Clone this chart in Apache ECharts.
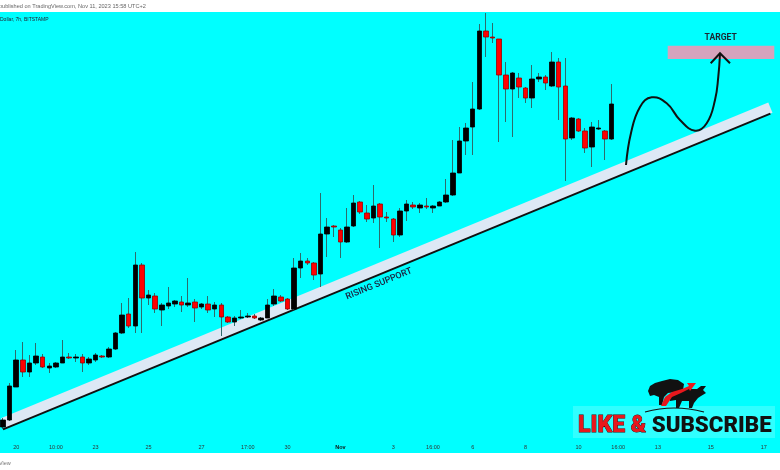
<!DOCTYPE html>
<html><head><meta charset="utf-8">
<script src="https://cdn.jsdelivr.net/npm/echarts@6/dist/echarts.min.js"></script>
<style>html,body{margin:0;padding:0;background:#fff}#c{width:780px;height:470px}</style>
</head><body><div id="c"></div>
<script>
// 7h candles (arbitrary price units)
const opens  = [28,35,68,95,83,92,98,87,88,92,98,97,98,92,95,99,98,106,122,141,129,190,157,159,145,149,151,153,150,153,148,151,146,150,138,133,137,138,139,135,137,151,158,156,146,187,194,192,181,221,229,225,213,229,253,242,237,251,238,236,220,244,250,247,249,247,249,253,260,282,314,328,346,424,418,416,380,366,377,367,357,376,378,369,393,369,317,336,324,308,326,324,316];
const closes = [35,69,95,83,92,99,88,89,92,98,97,98,92,96,100,98,106,122,140,129,190,157,160,146,150,152,154,150,152,147,151,145,150,138,133,137,138,139,137,137,150,159,154,146,187,194,192,180,221,228,228,213,228,252,243,236,249,238,237,220,244,251,248,250,248,249,253,260,282,314,327,346,424,418,417,380,366,382,368,357,376,378,372,393,368,316,337,324,307,328,327,316,351];
const lows   = [26,34,68,78,78,90,87,82,87,92,96,93,83,90,93,97,97,105,121,127,122,122,150,142,129,146,148,143,148,133,146,142,138,119,132,129,136,137,136,134,137,149,153,145,145,177,190,175,168,198,218,197,212,228,241,233,232,207,233,213,218,234,246,242,246,242,249,252,259,282,300,300,345,398,412,313,333,318,357,352,347,373,365,368,335,274,315,323,302,288,325,295,315];
const highs  = [37,72,105,113,100,112,101,92,93,115,102,101,101,98,102,100,108,123,152,157,203,192,165,162,152,168,155,159,177,156,152,159,153,152,139,139,145,142,141,138,156,166,160,157,197,202,197,193,262,237,230,227,247,260,254,250,270,252,243,237,247,255,253,252,257,250,254,276,315,328,332,373,431,442,432,416,393,383,382,368,390,382,380,403,397,397,338,337,327,333,335,325,371];
const slotCount = 118;
const tickIndex = [2,8,14,22,30,37,43,51,59,65,71,79,87,93,99,107,115];
const tickText  = ['20','10:00','23','25','27','17:00','30','Nov','3','16:00','6','8','10','16:00','13','15','17'];
const supportIdx = [0,116];
const supportVal = [25.6,341.3];

const categories = Array.from({length: slotCount}, (_, i) => 'c' + i);
const labelMap = {};
tickIndex.forEach((k, j) => labelMap[k] = tickText[j]);
const wickData = opens.map((o, i) => [o, closes[i], lows[i], highs[i]]);
const bodyData = opens.map((o, i) => [o, closes[i], Math.min(o, closes[i]), Math.max(o, closes[i])]);
const bandData = supportIdx.map((k, j) => [k, supportVal[j] + 6]);
const lineData = supportIdx.map((k, j) => [k, supportVal[j]]);

const chart = echarts.init(document.getElementById('c'), null, {renderer: 'canvas'});
chart.setOption({
  animation: false,
  backgroundColor: '#00ffff',
  grid: {left: -1, right: 1, top: 12, bottom: 30},
  xAxis: {
    type: 'category', data: categories, boundaryGap: false,
    axisLine: {show: false}, axisTick: {show: false}, splitLine: {show: false},
    axisLabel: {
      interval: 0, margin: 4, fontSize: 5.5, color: '#333', fontFamily: 'Liberation Sans',
      formatter: (v, i) => labelMap[i] === 'Nov' ? '{b|Nov}' : (labelMap[i] || ''),
      rich: {b: {fontWeight: 'bold', fontSize: 5.5, color: '#111', fontFamily: 'Liberation Sans'}}
    }
  },
  yAxis: {type: 'value', min: 15, max: 443, show: false, splitLine: {show: false}},
  series: [
    {type: 'line', data: bandData, symbol: 'none', silent: true, z: 1,
     lineStyle: {width: 11, color: '#dde8f5', cap: 'butt'}},
    {type: 'line', data: lineData, symbol: 'none', silent: true, z: 1,
     lineStyle: {width: 2, color: '#111'}},
    {type: 'candlestick', data: wickData, barWidth: 1, z: 3,
     itemStyle: {color: '#2e6b6b', color0: '#2e6b6b', borderColor: '#2e6b6b', borderColor0: '#2e6b6b', borderWidth: 1}},
    {type: 'candlestick', data: bodyData, barWidth: 5, z: 4,
     itemStyle: {color: '#000', color0: '#ff0000', borderColor: '#000', borderColor0: '#9a0000', borderWidth: 0.8}}
  ],
  graphic: [
    {type: 'rect', z: 100, shape: {x: 0, y: 0, width: 780, height: 12}, style: {fill: '#fff'}},
    {type: 'rect', z: 100, shape: {x: 0, y: 453, width: 780, height: 17}, style: {fill: '#fff'}},
    {type: 'text', z: 101, x: -1, y: 6, style: {text: 'published on TradingView.com, Nov 11, 2023 15:58 UTC+2', fontSize: 5.6, fontFamily: 'Liberation Sans', fill: '#666', verticalAlign: 'middle'}},
    {type: 'text', z: 101, x: -1, y: 463, style: {text: 'View', fontSize: 5.5, fontFamily: 'Liberation Sans', fill: '#777', verticalAlign: 'middle'}},
    {type: 'text', z: 101, x: 0, y: 19.5, style: {text: 'Dollar, 7h, BITSTAMP', fontSize: 5, fontFamily: 'Liberation Sans', fill: '#223', verticalAlign: 'middle'}},
    {type: 'text', z: 50, x: 379, y: 284, rotation: 0.3875, style: {text: 'RISING SUPPORT', fontSize: 9, fontWeight: 500, fontFamily: 'Roboto', fill: '#1a1f3d', align: 'center', verticalAlign: 'middle'}},
    {type: 'rect', z: 50, shape: {x: 667.7, y: 45.7, width: 106.6, height: 13.3}, style: {fill: '#d6a3bd'}},
    {type: 'text', z: 51, x: 720.7, y: 37.7, style: {text: 'TARGET', fontSize: 8.6, fontWeight: 'bold', fontFamily: 'Roboto', fill: '#1c2833', align: 'center', verticalAlign: 'middle'}},
    {type: 'polyline', z: 52, shape: {smooth: 0.45, points: [[626,165],[631,133],[640,107],[651.7,97.3],[666.7,103.3],[680,120],[695,130.7],[706.7,123.3],[715,100],[718.3,76.7],[720,54]]}, style: {stroke: '#111', lineWidth: 2, fill: null}},
    {type: 'polyline', z: 52, shape: {points: [[710.7,63.3],[720,53.3],[730,63.3]]}, style: {stroke: '#111', lineWidth: 2, fill: null}},
    {type: 'rect', z: 40, shape: {x: 573, y: 406, width: 202, height: 32}, style: {fill: 'rgba(220,255,255,0.22)'}},
    {type: 'polygon', z: 41, shape: {points: [[648,391],[650,386],[655,383],[662,381],[670,379],[678,380],[684,384],[683,390],[676,392],[668,393],[664,397],[662,405],[659,405],[659,397],[654,395],[650,396]]}, style: {fill: '#111'}},
    {type: 'polygon', z: 41, shape: {points: [[668,396],[676,391],[688,389],[697,389],[701,386],[706,386],[703,390],[706,393],[701,396],[698,398],[694,403],[692,408],[689,408],[689,401],[682,401],[679,408],[676,408],[676,400],[670,401]]}, style: {fill: '#111'}},
    {type: 'polygon', z: 42, shape: {points: [[661,406],[665,397],[672,392],[682,389],[689,386],[687,383],[696,383],[690,391],[689,389],[681,393],[672,397],[666,406]]}, style: {fill: '#e8171c'}},
    {type: 'bezierCurve', z: 41, shape: {x1: 645, y1: 412, cpx1: 674, cpy1: 404, x2: 704, y2: 412}, style: {stroke: '#111', lineWidth: 1.2, fill: null}},
    {type: 'text', z: 43, x: 578, y: 426.5, style: {text: 'LIKE &', fontSize: 23, fontWeight: 900, fontFamily: 'Roboto', fill: '#e8171c', stroke: '#3a0000', lineWidth: 0.8, verticalAlign: 'middle'}},
    {type: 'text', z: 43, x: 651.7, y: 426.5, style: {text: 'SUBSCRIBE', fontSize: 22.3, fontWeight: 900, fontFamily: 'Roboto', fill: '#111', verticalAlign: 'middle'}}
  ]
});
</script></body></html>
